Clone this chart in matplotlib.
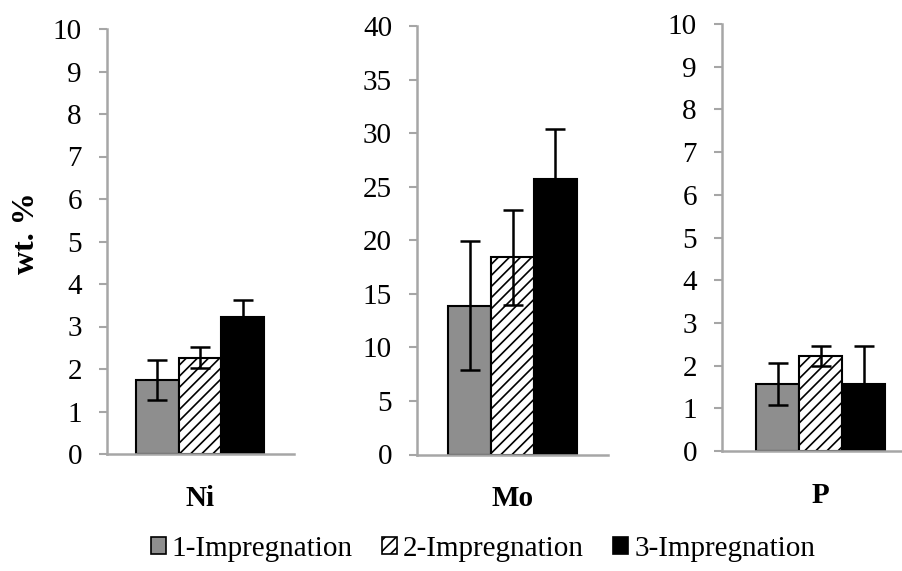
import matplotlib
matplotlib.use("Agg")
import matplotlib.pyplot as plt
from matplotlib.patches import Patch
import numpy as np

plt.rcParams['font.family'] = ['Liberation Serif', 'DejaVu Serif']
plt.rcParams['hatch.linewidth'] = 1.2

elements = ['Ni', 'Mo', 'P']
series = ['1-Impregnation', '2-Impregnation', '3-Impregnation']

# wt.% per element for each impregnation step, with error
ni_vals = [1.75, 2.27, 3.23]
ni_err = [0.47, 0.24, 0.39]
mo_vals = [13.9, 18.4, 25.7]
mo_err = [6.0, 4.4, 4.7]
p_vals = [1.56, 2.23, 1.57]
p_err = [0.49, 0.23, 0.90]

ylims = [10, 40, 10]
ysteps = [1, 5, 1]

gray = '#8e8e8e'
axcol = '#a6a6a6'
faces = [gray, 'white', 'black']
hatches = [None, '///', None]
fs = 21

fig = plt.figure(figsize=(9.03, 5.71), dpi=100)
W, H = 903, 571

# axes boxes in pixels: left, right, y of zero, y of top; then x-limits (bar units)
boxes = [
    (107, 294, 454, 29, (-2.18, 2.2)),
    (417, 608, 454.5, 26, (-2.23, 2.23)),
    (722, 903, 451, 24, (-2.3, 1.92)),
]

data = [(ni_vals, ni_err), (mo_vals, mo_err), (p_vals, p_err)]
x = np.arange(3) - 1

for i, (l, r, y0, y1, xl) in enumerate(boxes):
    ax = fig.add_axes([l / W, (H - y0) / H, (r - l) / W, (y0 - y1) / H])
    vals, err = data[i]
    for j in range(3):
        ax.bar(x[j], vals[j], width=1.0, color=faces[j], edgecolor='black',
               linewidth=1.5, hatch=hatches[j], zorder=2)
        ax.errorbar(x[j], vals[j], yerr=err[j], fmt='none', ecolor='black',
                    elinewidth=1.8, capsize=7, capthick=1.8, zorder=3)
    ax.set_xlim(*xl)
    ax.set_ylim(0, ylims[i])
    ax.set_yticks(np.arange(0, ylims[i] + 0.01, ysteps[i]))
    ax.set_xticks([0])
    ax.set_xticklabels([elements[i]], fontweight='bold', fontsize=fs)
    ax.tick_params(axis='x', length=0, pad=22)
    ax.tick_params(axis='y', length=6, width=1.5, color=axcol, pad=12, labelsize=fs)
    for s in ['top', 'right']:
        ax.spines[s].set_visible(False)
    for s in ['left', 'bottom']:
        ax.spines[s].set_color(axcol)
        ax.spines[s].set_linewidth(1.8)

fig.text(27 / W, 1 - 233 / H, 'wt. %', rotation=90, ha='center', va='center',
         fontweight='bold', fontsize=23)

handles = [Patch(facecolor=faces[j], edgecolor='black', hatch=hatches[j], linewidth=1.2)
           for j in range(3)]
fig.legend(handles, series, loc='center', bbox_to_anchor=(483 / W, 1 - 549 / H),
           ncol=3, frameon=False, fontsize=fs, handlelength=0.52, handleheight=0.52,
           handletextpad=0.2, columnspacing=1.0)

fig.savefig('out.png', dpi=100)
